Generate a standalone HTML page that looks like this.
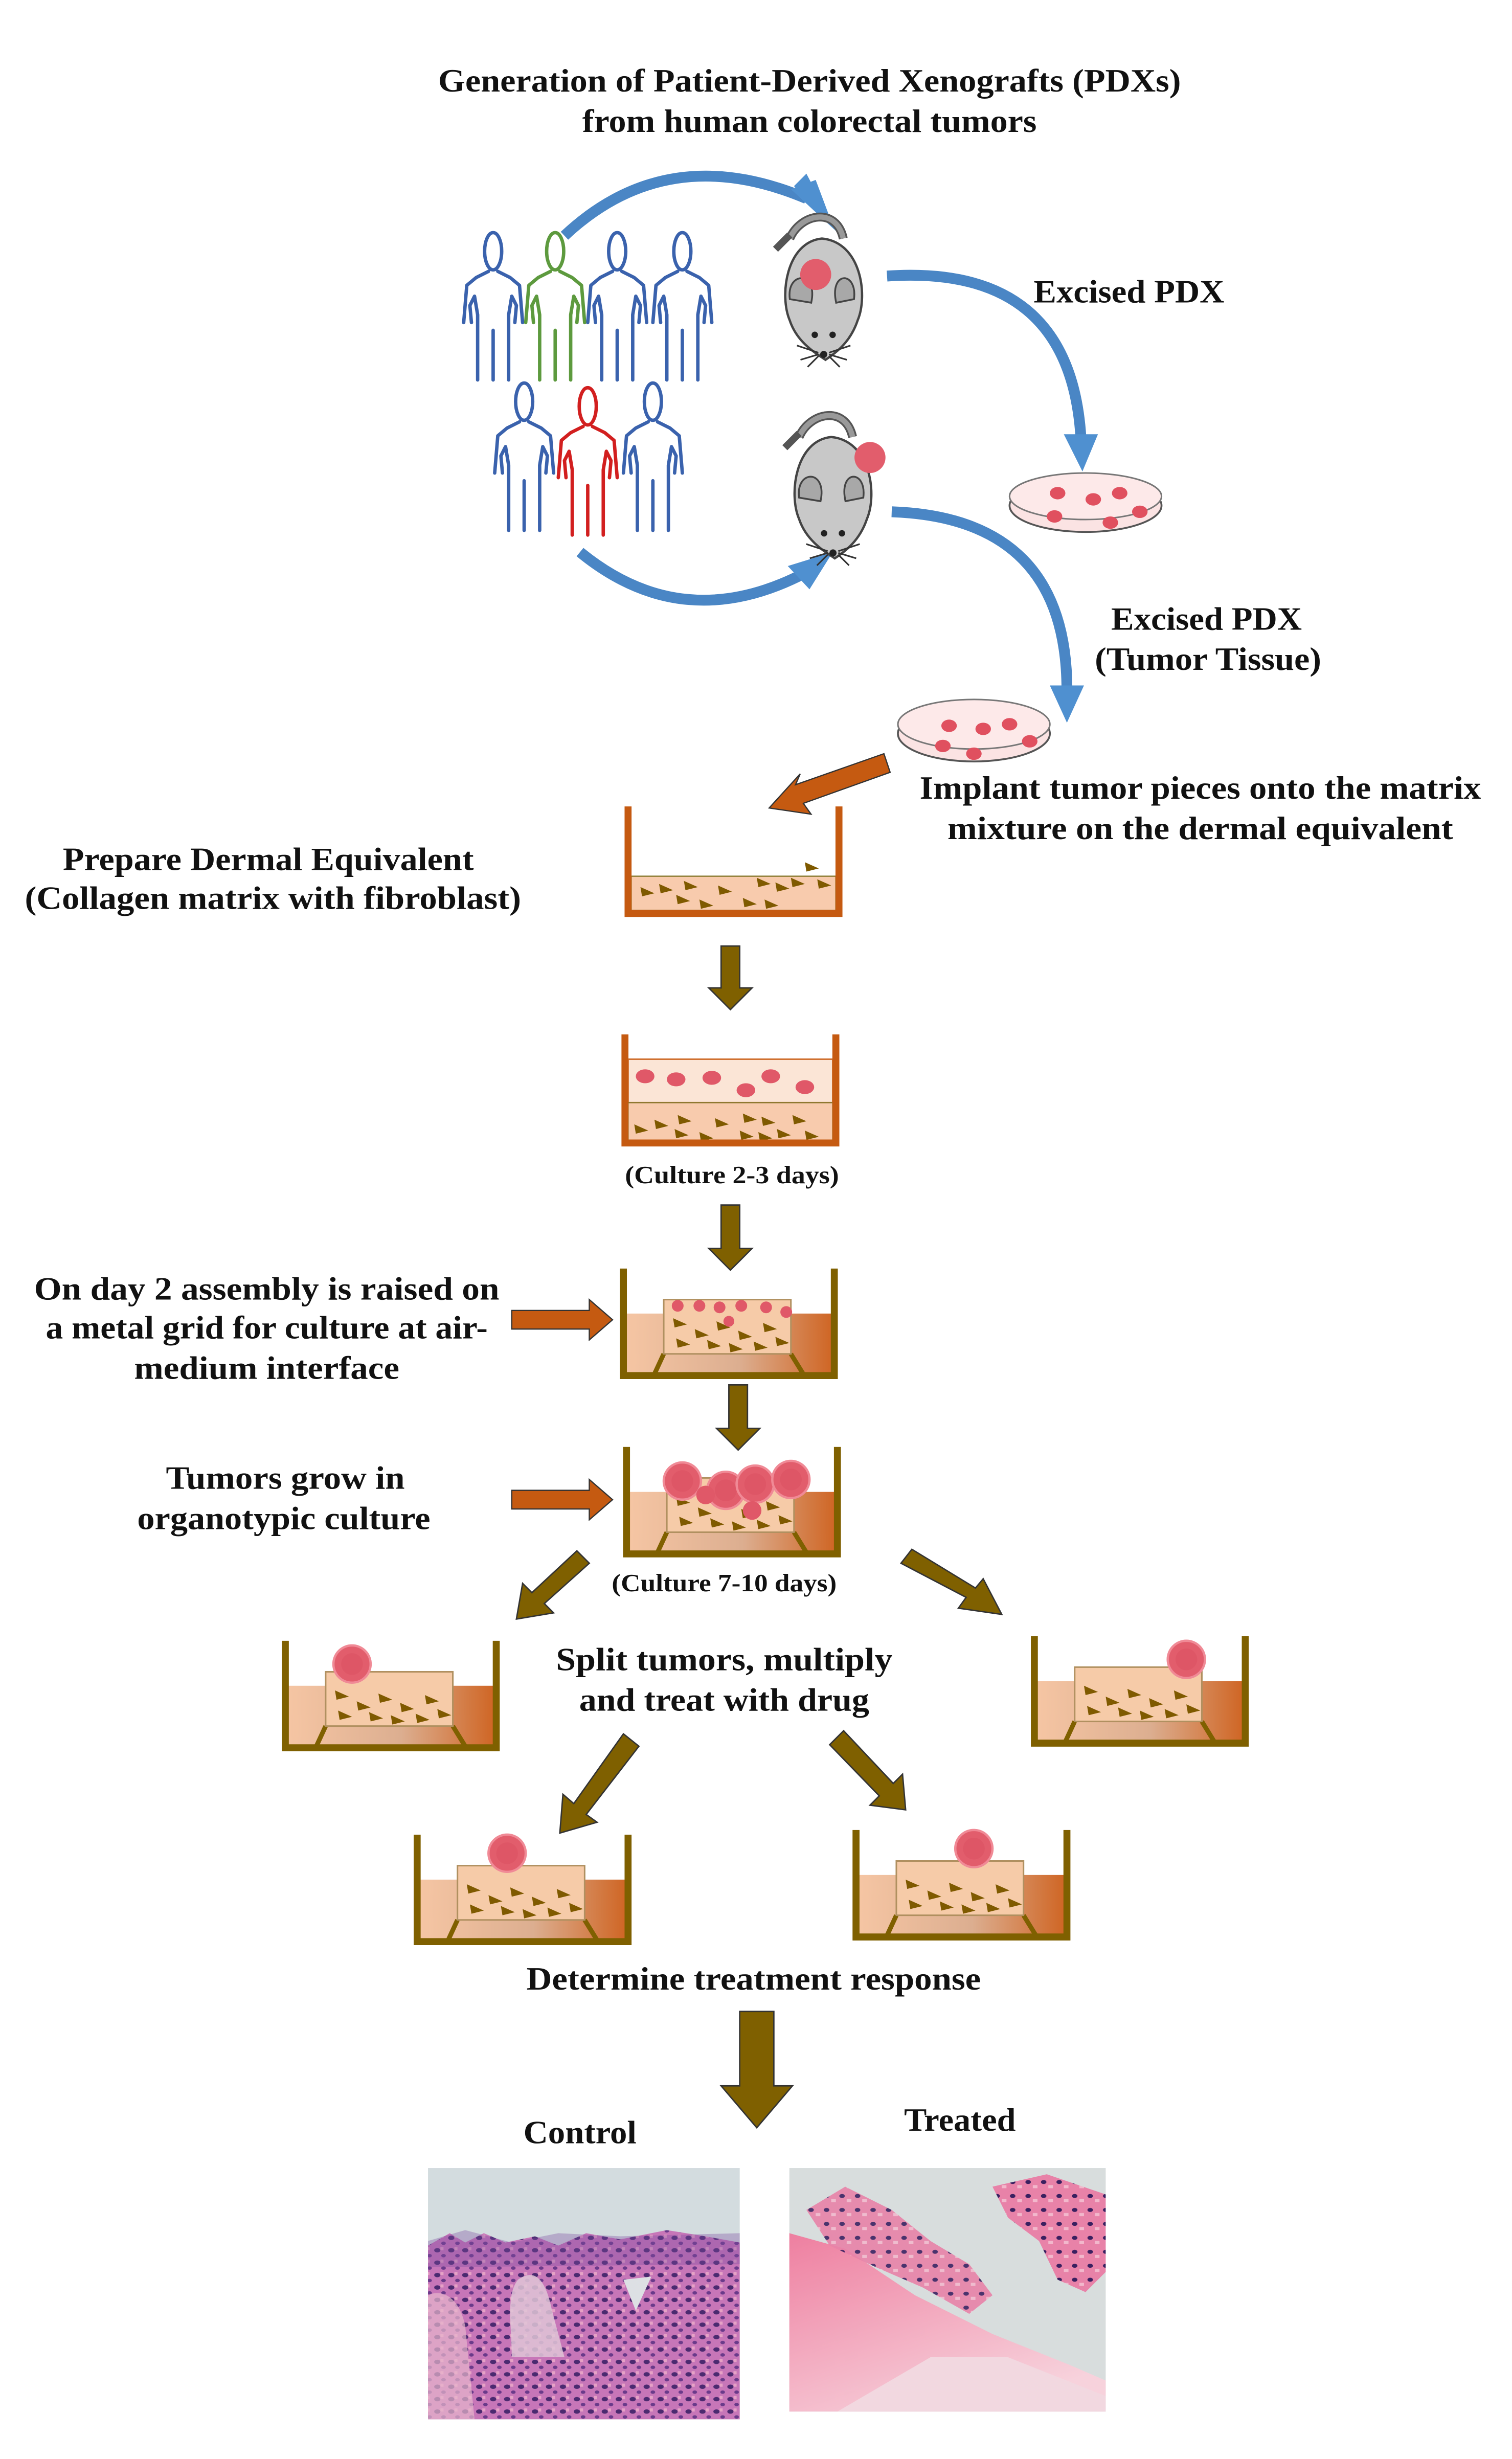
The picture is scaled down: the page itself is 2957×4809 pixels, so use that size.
<!DOCTYPE html>
<html><head><meta charset="utf-8"><style>html,body{margin:0;padding:0;background:#fff}svg{display:block}</style></head>
<body>
<svg xmlns="http://www.w3.org/2000/svg" xmlns:xlink="http://www.w3.org/1999/xlink" width="2957" height="4809" viewBox="0 0 975 1585.6" preserveAspectRatio="none" font-family="'Liberation Serif', serif" font-weight="bold">
<defs>
<linearGradient id="med" x1="0" x2="1" y1="0" y2="0"><stop offset="0" stop-color="#f6c6a4"/><stop offset="0.55" stop-color="#dcae90"/><stop offset="1" stop-color="#cf6422"/></linearGradient>
<g id="fb"><path d="M0,0 L9,4 L1,6 Z" fill="#7f5a00"/></g>
<g id="person" fill="none" stroke-width="2.2" stroke-linecap="round" stroke-linejoin="round">
<ellipse cx="0" cy="12" rx="5.5" ry="12"/>
<path d="M-3,25 L-11,29 L-17,34 L-19,58 M-14,58 L-15,47 L-12,41 L-10,53 L-10,95 M0,63 L0,95 M3,25 L11,29 L17,34 L19,58 M14,58 L15,47 L12,41 L10,53 L10,95"/>
</g>
<g id="mouse">
<path d="M22,12 C28,-2 48,-6 52,12" fill="none" stroke="#555" stroke-width="5"/>
<path d="M22,12 C28,-2 48,-6 52,12" fill="none" stroke="#999" stroke-width="3"/>
<path d="M22,10 L14,18" stroke="#555" stroke-width="4"/>
<path d="M40,12 C62,14 66,44 60,58 C56,70 48,76 42,80 C36,76 26,70 22,58 C16,44 20,14 40,12 Z" fill="#c8c8c8" stroke="#444" stroke-width="1.3"/>
<path d="M22,46 C20,30 38,30 34,48 Z" fill="#a8a8a8" stroke="#444" stroke-width="1"/>
<path d="M58,46 C60,30 44,30 48,48 Z" fill="#a8a8a8" stroke="#444" stroke-width="1"/>
<circle cx="36" cy="66" r="1.8" fill="#222"/><circle cx="46" cy="66" r="1.8" fill="#222"/>
<circle cx="41" cy="77" r="2" fill="#222"/>
<path d="M38,76 L26,72 M38,77 L28,80 M38,78 L32,84 M44,76 L56,72 M44,77 L54,80 M44,78 L50,84" stroke="#333" stroke-width="0.9"/>
</g>
<g id="tumor"><circle r="12" fill="#e25d6c" stroke="#f08a96" stroke-width="1.5"/><circle r="7" fill="#d9505f" opacity="0.5"/></g>
<g id="raised">
<rect x="2" y="29" width="136" height="39" fill="url(#med)"/>
<path d="M22,68 L28,55 M110,55 L118,68" stroke="#7f6000" stroke-width="3"/>
<rect x="28" y="20" width="82" height="35" fill="#f6cba8" stroke="#b09060" stroke-width="1"/>
<use href="#fb" x="34" y="32"/><use href="#fb" x="48" y="39"/><use href="#fb" x="62" y="34"/><use href="#fb" x="76" y="40"/><use href="#fb" x="92" y="35"/><use href="#fb" x="100" y="44"/>
<use href="#fb" x="36" y="45"/><use href="#fb" x="56" y="46"/><use href="#fb" x="70" y="48"/><use href="#fb" x="86" y="47"/>
<path d="M2,0 V69 H138 V0" fill="none" stroke="#7f6000" stroke-width="4.5"/>
</g>
<pattern id="cellsA" width="9" height="8" patternUnits="userSpaceOnUse"><rect width="9" height="8" fill="#c776b8"/><ellipse cx="3" cy="3" rx="2" ry="1.4" fill="#4b2a70"/><ellipse cx="7" cy="6.5" rx="1.5" ry="1.1" fill="#6a3a8a"/><rect x="5" y="1" width="2" height="2" fill="#e6a2c6"/></pattern>
<pattern id="cellsB" width="10" height="9" patternUnits="userSpaceOnUse"><rect width="10" height="9" fill="#e882a8"/><ellipse cx="3" cy="3" rx="1.8" ry="1.3" fill="#3a2060"/><rect x="6" y="5" width="3" height="2" fill="#f2b8cc"/></pattern>
<linearGradient id="pinkg" x1="0" y1="0" x2="0.6" y2="1"><stop offset="0" stop-color="#ee7fa0"/><stop offset="1" stop-color="#f7d2dc"/></linearGradient>
</defs>

<g font-size="21" text-anchor="middle" fill="#111" lengthAdjust="spacingAndGlyphs">
<text x="522" y="59" textLength="479" lengthAdjust="spacingAndGlyphs">Generation of Patient-Derived Xenografts (PDXs)</text>
<text x="522" y="85" textLength="293" lengthAdjust="spacingAndGlyphs">from human colorectal tumors</text>
<text x="728" y="195" textLength="123" lengthAdjust="spacingAndGlyphs">Excised PDX</text>
<text x="778" y="406" textLength="123" lengthAdjust="spacingAndGlyphs">Excised PDX</text>
<text x="779" y="432" textLength="146" lengthAdjust="spacingAndGlyphs">(Tumor Tissue)</text>
<text x="774" y="515" textLength="362" lengthAdjust="spacingAndGlyphs">Implant tumor pieces onto the matrix</text>
<text x="774" y="541" textLength="326" lengthAdjust="spacingAndGlyphs">mixture on the dermal equivalent</text>
<text x="173" y="561" textLength="265" lengthAdjust="spacingAndGlyphs">Prepare Dermal Equivalent</text>
<text x="176" y="586" textLength="320" lengthAdjust="spacingAndGlyphs">(Collagen matrix with fibroblast)</text>
<text x="172" y="838" textLength="300" lengthAdjust="spacingAndGlyphs">On day 2 assembly is raised on</text>
<text x="172" y="863" textLength="285" lengthAdjust="spacingAndGlyphs">a metal grid for culture at air-</text>
<text x="172" y="889" textLength="171" lengthAdjust="spacingAndGlyphs">medium interface</text>
<text x="184" y="960" textLength="154" lengthAdjust="spacingAndGlyphs">Tumors grow in</text>
<text x="183" y="986" textLength="189" lengthAdjust="spacingAndGlyphs">organotypic culture</text>
<text x="467" y="1077" textLength="217" lengthAdjust="spacingAndGlyphs">Split tumors, multiply</text>
<text x="467" y="1103" textLength="187" lengthAdjust="spacingAndGlyphs">and treat with drug</text>
<text x="486" y="1283" textLength="293" lengthAdjust="spacingAndGlyphs">Determine treatment response</text>
<text x="374" y="1382" textLength="73" lengthAdjust="spacingAndGlyphs">Control</text>
<text x="619" y="1374" textLength="72" lengthAdjust="spacingAndGlyphs">Treated</text>
</g>
<g font-size="16" text-anchor="middle" fill="#111">
<text x="472" y="763" textLength="138" lengthAdjust="spacingAndGlyphs">(Culture 2-3 days)</text>
<text x="467" y="1026" textLength="145" lengthAdjust="spacingAndGlyphs">(Culture 7-10 days)</text>
</g>

<!-- people -->
<g stroke="#3a62ad"><use href="#person" x="318" y="150"/><use href="#person" x="398" y="150"/><use href="#person" x="440" y="150"/><use href="#person" x="338" y="247"/><use href="#person" x="421" y="247"/></g>
<g stroke="#5d9a3e"><use href="#person" x="358" y="150"/></g>
<g stroke="#d21f1f"><use href="#person" x="379" y="250"/></g>

<!-- blue arrows -->
<g fill="none" stroke="#4a86c5" stroke-width="7">
<path d="M364,152 Q430,90 520,128"/>
<path d="M374,356 Q440,410 518,370"/>
<path d="M572,178 Q690,170 697,282"/>
<path d="M575,330 Q688,334 688,445"/>
</g>
<g fill="#4f90d0">
<path d="M510,122 L538,148 L526,116 Z M512,120 L540,150 L520,112 Z"/>
<path d="M508,365 L537,356 L522,380 Z"/>
<path d="M686,280 L708,280 L698,304 Z"/>
<path d="M677,442 L699,442 L688,466 Z"/>
</g>

<!-- mice -->
<use href="#mouse" transform="translate(484,140) scale(1.15)"/>
<circle cx="526" cy="177" r="10" fill="#e25d6c"/>
<use href="#mouse" transform="translate(490,268) scale(1.15)"/>
<circle cx="561" cy="295" r="10" fill="#e25d6c"/>

<!-- dishes -->
<g>
<ellipse cx="700" cy="326" rx="49" ry="17" fill="#fbe3e3" stroke="#555" stroke-width="1.2"/>
<ellipse cx="700" cy="320" rx="49" ry="15" fill="#fde9e9" stroke="#777" stroke-width="1"/>
<g fill="#e0505f"><ellipse cx="682" cy="318" rx="5" ry="4"/><ellipse cx="705" cy="322" rx="5" ry="4"/><ellipse cx="722" cy="318" rx="5" ry="4"/><ellipse cx="735" cy="330" rx="5" ry="4"/><ellipse cx="680" cy="333" rx="5" ry="4"/><ellipse cx="716" cy="337" rx="5" ry="4"/></g>
</g>
<g>
<ellipse cx="628" cy="473" rx="49" ry="18" fill="#fbe3e3" stroke="#555" stroke-width="1.2"/>
<ellipse cx="628" cy="467" rx="49" ry="16" fill="#fde9e9" stroke="#777" stroke-width="1"/>
<g fill="#e0505f"><ellipse cx="612" cy="468" rx="5" ry="4"/><ellipse cx="634" cy="470" rx="5" ry="4"/><ellipse cx="651" cy="467" rx="5" ry="4"/><ellipse cx="664" cy="478" rx="5" ry="4"/><ellipse cx="608" cy="481" rx="5" ry="4"/><ellipse cx="628" cy="486" rx="5" ry="4"/></g>
</g>

<!-- orange arrow to well 1 -->
<path d="M570,486 L513,506 L516,499 L496,521 L523,525 L518,518 L574,498 Z" fill="#c55a11" stroke="#333" stroke-width="0.8"/>

<!-- well 1 -->
<g transform="translate(403,520)">
<rect x="4" y="45" width="132" height="22" fill="#f8cbad" stroke="#8a7a30" stroke-width="0.8"/>
<use href="#fb" x="10" y="52"/><use href="#fb" x="22" y="50"/><use href="#fb" x="38" y="48"/><use href="#fb" x="60" y="51"/><use href="#fb" x="85" y="46"/><use href="#fb" x="97" y="49"/><use href="#fb" x="107" y="46"/><use href="#fb" x="124" y="47"/><use href="#fb" x="116" y="36"/>
<use href="#fb" x="33" y="57"/><use href="#fb" x="48" y="60"/><use href="#fb" x="76" y="59"/><use href="#fb" x="90" y="60"/>
<path d="M2,0 V69 H138 V0" fill="none" stroke="#c55a11" stroke-width="4.5"/>
</g>

<g fill="#7f6000" stroke="#333" stroke-width="0.9">
<path d="M465,610 H477 V637 H485 L471,651 L457,637 H465 Z"/>
<path d="M465,777 H477 V805 H485 L471,819 L457,805 H465 Z"/>
<path d="M470,893 H482 V921 H490 L476,935 L462,921 H470 Z"/>
</g>

<!-- well 2 -->
<g transform="translate(401,667)">
<rect x="4" y="16" width="132" height="28" fill="#fbe5d6" stroke="#d07030" stroke-width="1"/>
<rect x="4" y="44" width="132" height="25" fill="#f8cbad" stroke="#8a7a30" stroke-width="0.8"/>
<g fill="#e05868"><ellipse cx="15" cy="27" rx="6" ry="4.5"/><ellipse cx="35" cy="29" rx="6" ry="4.5"/><ellipse cx="58" cy="28" rx="6" ry="4.5"/><ellipse cx="80" cy="36" rx="6" ry="4.5"/><ellipse cx="96" cy="27" rx="6" ry="4.5"/><ellipse cx="118" cy="34" rx="6" ry="4.5"/></g>
<use href="#fb" x="8" y="58"/><use href="#fb" x="21" y="55"/><use href="#fb" x="36" y="52"/><use href="#fb" x="60" y="54"/><use href="#fb" x="78" y="51"/><use href="#fb" x="90" y="53"/><use href="#fb" x="110" y="52"/>
<use href="#fb" x="34" y="61"/><use href="#fb" x="50" y="63"/><use href="#fb" x="76" y="62"/><use href="#fb" x="88" y="63"/><use href="#fb" x="100" y="61"/><use href="#fb" x="118" y="62"/>
<path d="M2,0 V70 H138 V0" fill="none" stroke="#c55a11" stroke-width="4.5"/>
</g>

<!-- well 3 -->
<use href="#raised" x="400" y="818"/>
<g fill="#e05868"><circle cx="437" cy="842" r="3.8"/><circle cx="451" cy="842" r="3.8"/><circle cx="464" cy="843" r="3.8"/><circle cx="478" cy="842" r="3.8"/><circle cx="494" cy="843" r="3.8"/><circle cx="507" cy="846" r="3.8"/><circle cx="470" cy="852" r="3.5"/></g>
<path d="M330,845 H380 V838 L395,851 L380,864 V857 H330 Z" fill="#c55a11" stroke="#333" stroke-width="0.8"/>

<!-- well 4 -->
<use href="#raised" x="402" y="933"/>
<use href="#tumor" x="440" y="955"/><use href="#tumor" x="468" y="961"/><use href="#tumor" x="487" y="957"/><use href="#tumor" x="510" y="954"/>
<circle cx="455" cy="964" r="6" fill="#e05868"/><circle cx="485" cy="974" r="6" fill="#e05868"/>
<path d="M330,961 H380 V954 L395,967 L380,980 V973 H330 Z" fill="#c55a11" stroke="#333" stroke-width="0.8"/>

<g fill="#7f6000" stroke="#333" stroke-width="0.9">
<path d="M372,1000 L380,1008 L351,1034 L357,1040 L333,1044 L337,1021 L343,1027 Z"/>
<path d="M588,999 L581,1008 L623,1030 L618,1037 L646,1041 L634,1018 L629,1024 Z"/>
<path d="M402,1118 L412,1126 L378,1170 L385,1175 L361,1182 L363,1157 L370,1163 Z"/>
<path d="M544,1116 L535,1125 L567,1158 L561,1164 L584,1167 L582,1144 L576,1150 Z"/>
<path d="M477,1297 H499 V1345 H511 L488,1372 L465,1345 H477 Z"/>
</g>

<use href="#raised" x="182" y="1058"/><use href="#tumor" x="227" y="1073"/>
<use href="#raised" x="665" y="1055"/><use href="#tumor" x="765" y="1070"/>
<use href="#raised" x="267" y="1183"/><use href="#tumor" x="327" y="1195"/>
<use href="#raised" x="550" y="1180"/><use href="#tumor" x="628" y="1192"/>

<!-- histology control -->
<rect x="276" y="1398" width="201" height="162" fill="#d3dcdf"/>
<path d="M276,1448 L290,1440 L300,1446 L312,1440 L326,1446 L345,1442 L360,1448 L378,1440 L400,1444 L430,1438 L455,1442 L477,1446 V1560 H276 Z" fill="url(#cellsA)"/>
<path d="M276,1480 C284,1476 296,1480 300,1500 L306,1560 H276 Z" fill="#e7b6cc" opacity="0.7"/>
<path d="M334,1470 C345,1462 352,1470 356,1490 L364,1520 L330,1520 C330,1500 326,1480 334,1470 Z" fill="#dfc6d6" opacity="0.85"/>
<path d="M402,1470 L420,1468 L410,1490 Z" fill="#dde0e4"/>
<path d="M276,1445 L300,1438 L330,1446 L360,1440 L400,1442 L477,1440 V1460 L276,1462 Z" fill="#7d4ea0" opacity="0.35"/>

<!-- histology treated -->
<rect x="509" y="1398" width="204" height="157" fill="#d8dddd"/>
<path d="M509,1440 L545,1450 L590,1480 L640,1505 L690,1525 L713,1535 V1555 H509 Z" fill="url(#pinkg)"/>
<path d="M540,1555 L600,1520 L650,1520 L713,1545 V1555 Z" fill="#f2d8e0"/>
<path d="M520,1425 L545,1410 L575,1425 L600,1445 L625,1460 L640,1480 L625,1492 L595,1475 L565,1462 L535,1448 Z" fill="url(#cellsB)" opacity="0.9"/>
<path d="M640,1410 L675,1402 L713,1415 V1465 L700,1478 L682,1470 L670,1445 L650,1430 Z" fill="url(#cellsB)"/>
</svg>
</body></html>
